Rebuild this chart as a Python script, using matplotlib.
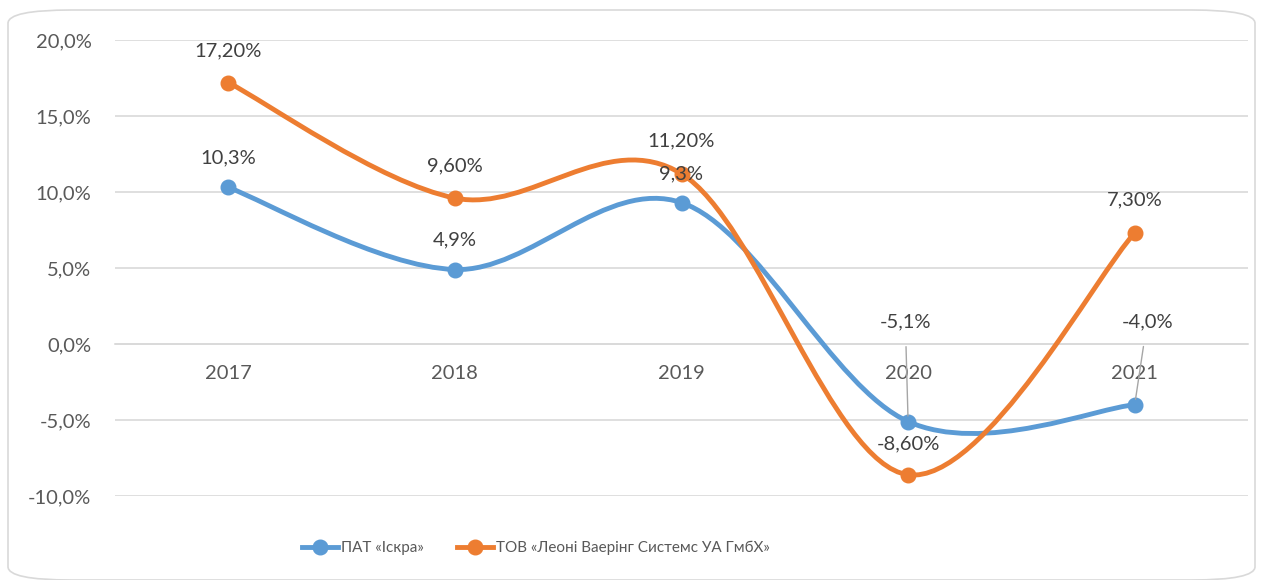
import matplotlib.pyplot as plt
from matplotlib.path import Path
from matplotlib.patches import PathPatch, FancyBboxPatch
from matplotlib.lines import Line2D

plt.rcParams['font.family'] = ['Lato', 'DejaVu Sans']

years = ['2017', '2018', '2019', '2020', '2021']
iskra = [10.3, 4.9, 9.3, -5.1, -4.0]
leoni = [17.2, 9.6, 11.2, -8.6, 7.3]
iskra_labels = ['10,3%', '4,9%', '9,3%', '-5,1%', '-4,0%']
leoni_labels = ['17,20%', '9,60%', '11,20%', '-8,60%', '7,30%']
yticks = [-10, -5, 0, 5, 10, 15, 20]
ytick_labels = ['-10,0%', '-5,0%', '0,0%', '5,0%', '10,0%', '15,0%', '20,0%']
series_names = ['ПАТ «Іскра»', 'ТОВ «Леоні Ваерінг Системс УА ГмбХ»']

BLUE = '#5B9BD5'
ORANGE = '#ED7D31'
GRID = '#D9D9D9'
TXT = '#595959'
LBL = '#404040'


def smooth_path(xs, ys):
    # excel-like smoothing: bezier segments with catmull-rom control points
    pts = list(zip(xs, ys))
    n = len(pts)
    verts = [pts[0]]
    codes = [Path.MOVETO]
    for i in range(n - 1):
        p0 = pts[max(i - 1, 0)]
        p1 = pts[i]
        p2 = pts[i + 1]
        p3 = pts[min(i + 2, n - 1)]
        c1 = (p1[0] + (p2[0] - p0[0]) / 6, p1[1] + (p2[1] - p0[1]) / 6)
        c2 = (p2[0] - (p3[0] - p1[0]) / 6, p2[1] - (p3[1] - p1[1]) / 6)
        verts += [c1, c2, p2]
        codes += [Path.CURVE4] * 3
    return Path(verts, codes)


fig = plt.figure(figsize=(12.69, 5.8), dpi=100)
border = FancyBboxPatch((8 / 1269, 0.0), (1255 - 8) / 1269, 1 - 10 / 580,
                        boxstyle='round,pad=0,rounding_size=0.05',
                        transform=fig.transFigure, facecolor='white',
                        edgecolor=GRID, linewidth=1.2, mutation_aspect=580 / 1269,
                        zorder=-10)
fig.patches.append(border)

ax = fig.add_axes([115 / 1269, 1 - 496 / 580, (1248 - 115) / 1269, (496 - 40) / 580])
ax.set_facecolor('none')
x = list(range(len(years)))
ax.set_xlim(-0.5, len(years) - 0.5)
ax.set_ylim(-10, 20)

ax.set_yticks(yticks)
ax.set_yticklabels(ytick_labels)
ax.grid(axis='y', color=GRID, linewidth=1.2)
ax.set_axisbelow(True)
for s in ['top', 'right', 'left']:
    ax.spines[s].set_visible(False)
ax.spines['bottom'].set_position(('data', 0))
ax.spines['bottom'].set_color(GRID)
ax.spines['bottom'].set_linewidth(1.2)
ax.set_xticks(x)
ax.set_xticklabels(years)
ax.tick_params(axis='x', length=0, pad=15, labelsize=14.5, labelcolor=TXT)
ax.tick_params(axis='y', length=0, pad=17, labelsize=14.5, labelcolor=TXT)

for vals, color in [(iskra, BLUE), (leoni, ORANGE)]:
    ax.add_patch(PathPatch(smooth_path(x, vals), facecolor='none', edgecolor=color,
                           linewidth=3.5, capstyle='round', zorder=3))
    ax.plot(x, vals, linestyle='none', marker='o', markersize=10.5, color=color, zorder=4)

# data labels (offsets in points)
iskra_off = [(0, 21), (0, 21), (0, 21), (-2, 72), (9, 60)]
leoni_off = [(0, 23), (0, 23), (0, 24), (0, 22), (0, 24)]
for i in x:
    dx, dy = iskra_off[i]
    lead = dy > 40
    ax.annotate(iskra_labels[i], (x[i], iskra[i]), xytext=(dx, dy), textcoords='offset points',
                ha='center', va='center', fontsize=14.5, color=LBL, zorder=5,
                arrowprops=dict(arrowstyle='-', color='#A6A6A6', lw=1,
                                shrinkA=10, shrinkB=4) if lead else None)
    dx, dy = leoni_off[i]
    ax.annotate(leoni_labels[i], (x[i], leoni[i]), xytext=(dx, dy), textcoords='offset points',
                ha='center', va='center', fontsize=14.5, color=LBL, zorder=5)

handles = [Line2D([], [], color=BLUE, linewidth=3.5, marker='o', markersize=10.5),
           Line2D([], [], color=ORANGE, linewidth=3.5, marker='o', markersize=10.5)]
fig.legend(handles, series_names, loc='center', bbox_to_anchor=(536 / 1269, 1 - 548 / 580),
           ncol=2, frameon=False, fontsize=11, labelcolor=TXT, handlelength=2.35,
           handletextpad=0.2, columnspacing=2.2)

fig.savefig('out.png', dpi=100)
